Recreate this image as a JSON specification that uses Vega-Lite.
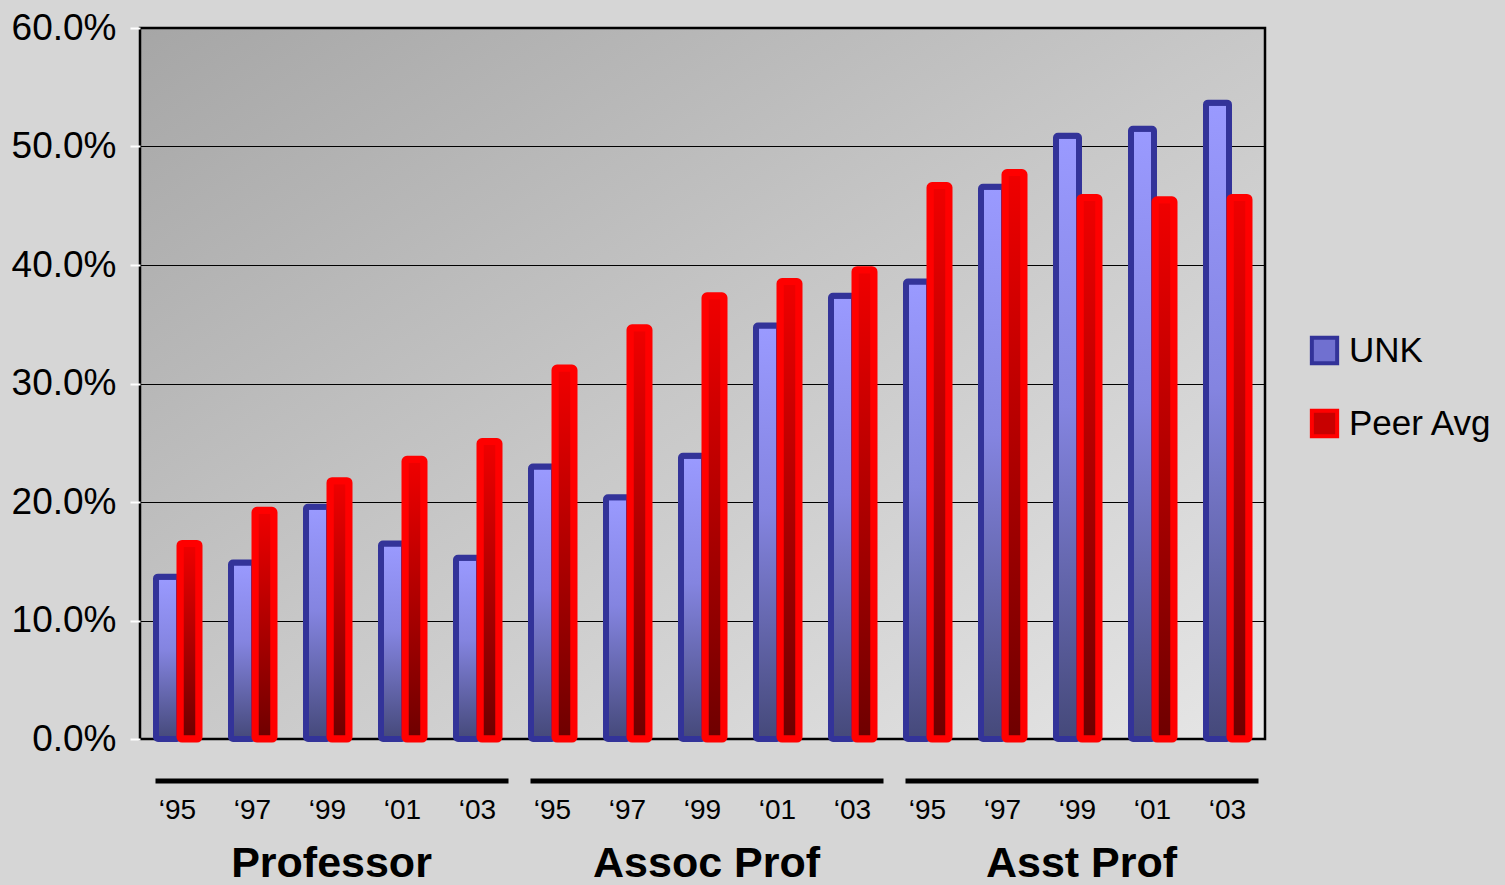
{
  "$schema": "https://vega.github.io/schema/vega-lite/v6.json",
  "width": 1125,
  "height": 711,
  "autosize": {"type": "none"},
  "padding": {"left": 140, "top": 28, "right": 240, "bottom": 146},
  "background": "#d6d6d6",
  "config": {
    "font": "Liberation Sans",
    "view": {
      "stroke": "#000000", "strokeWidth": 2.5,
      "fill": {
        "gradient": "linear", "x1": 0, "y1": 0, "x2": 1, "y2": 1,
        "stops": [{"offset": 0, "color": "#a6a6a6"}, {"offset": 0.5, "color": "#c8c8c8"}, {"offset": 1, "color": "#e6e6e6"}]
      }
    },
    "axis": {"labelFont": "Liberation Sans", "labelColor": "#000000"}
  },
  "datasets": {
    "bars": [
      {"group": "Professor", "year": "‘95", "key": "Professor|‘95", "UNK": 0.137, "Peer": 0.165},
      {"group": "Professor", "year": "‘97", "key": "Professor|‘97", "UNK": 0.149, "Peer": 0.193},
      {"group": "Professor", "year": "‘99", "key": "Professor|‘99", "UNK": 0.196, "Peer": 0.218},
      {"group": "Professor", "year": "‘01", "key": "Professor|‘01", "UNK": 0.165, "Peer": 0.236},
      {"group": "Professor", "year": "‘03", "key": "Professor|‘03", "UNK": 0.153, "Peer": 0.251},
      {"group": "Assoc Prof", "year": "‘95", "key": "Assoc Prof|‘95", "UNK": 0.230, "Peer": 0.313},
      {"group": "Assoc Prof", "year": "‘97", "key": "Assoc Prof|‘97", "UNK": 0.204, "Peer": 0.347},
      {"group": "Assoc Prof", "year": "‘99", "key": "Assoc Prof|‘99", "UNK": 0.239, "Peer": 0.374},
      {"group": "Assoc Prof", "year": "‘01", "key": "Assoc Prof|‘01", "UNK": 0.349, "Peer": 0.386},
      {"group": "Assoc Prof", "year": "‘03", "key": "Assoc Prof|‘03", "UNK": 0.374, "Peer": 0.396},
      {"group": "Asst Prof", "year": "‘95", "key": "Asst Prof|‘95", "UNK": 0.386, "Peer": 0.467},
      {"group": "Asst Prof", "year": "‘97", "key": "Asst Prof|‘97", "UNK": 0.466, "Peer": 0.478},
      {"group": "Asst Prof", "year": "‘99", "key": "Asst Prof|‘99", "UNK": 0.509, "Peer": 0.457},
      {"group": "Asst Prof", "year": "‘01", "key": "Asst Prof|‘01", "UNK": 0.515, "Peer": 0.455},
      {"group": "Asst Prof", "year": "‘03", "key": "Asst Prof|‘03", "UNK": 0.537, "Peer": 0.457}
    ],
    "groups": [
      {"group": "Professor", "first": "Professor|‘95", "last": "Professor|‘03", "mid": "Professor|‘99"},
      {"group": "Assoc Prof", "first": "Assoc Prof|‘95", "last": "Assoc Prof|‘03", "mid": "Assoc Prof|‘99"},
      {"group": "Asst Prof", "first": "Asst Prof|‘95", "last": "Asst Prof|‘03", "mid": "Asst Prof|‘99"}
    ]
  },
  "layer": [
    {
      "data": {"name": "bars"},
      "mark": {
        "type": "bar",
        "width": 23,
        "xOffset": -10,
        "stroke": "#333399",
        "strokeWidth": 6,
        "strokeJoin": "round",
        "cornerRadius": 2,
        "fill": {
          "gradient": "linear", "x1": 0, "y1": 0, "x2": 0, "y2": 1,
          "stops": [{"offset": 0, "color": "#9a9aff"}, {"offset": 0.45, "color": "#8484e0"}, {"offset": 1, "color": "#45497a"}]
        }
      },
      "encoding": {
        "x": {
          "field": "key", "type": "nominal",
          "scale": {
            "domain": ["Professor|‘95", "Professor|‘97", "Professor|‘99", "Professor|‘01", "Professor|‘03",
                       "Assoc Prof|‘95", "Assoc Prof|‘97", "Assoc Prof|‘99", "Assoc Prof|‘01", "Assoc Prof|‘03",
                       "Asst Prof|‘95", "Asst Prof|‘97", "Asst Prof|‘99", "Asst Prof|‘01", "Asst Prof|‘03"],
            "paddingInner": 0, "paddingOuter": 0
          },
          "axis": {
            "title": null, "labelAngle": 0, "domain": false, "ticks": false, "grid": false,
            "labelFontSize": 28, "labelPadding": 57,
            "labelExpr": "split(datum.label, '|')[1]"
          }
        },
        "y": {
          "field": "UNK", "type": "quantitative",
          "scale": {"domain": [0, 0.6], "nice": false},
          "axis": {
            "title": null, "format": ".1%", "values": [0, 0.1, 0.2, 0.3, 0.4, 0.5, 0.6],
            "domain": false, "ticks": true, "tickColor": "#ffffff", "tickWidth": 2, "tickSize": 10,
            "grid": true, "gridColor": "#000000", "gridOpacity": 1, "gridWidth": 1,
            "labelFontSize": 37, "labelPadding": 14
          }
        }
      }
    },
    {
      "data": {"name": "bars"},
      "mark": {
        "type": "bar",
        "width": 19,
        "xOffset": 12,
        "stroke": "#ff0000",
        "strokeWidth": 7,
        "strokeJoin": "round",
        "cornerRadius": 2,
        "fill": {
          "gradient": "linear", "x1": 0, "y1": 0, "x2": 0, "y2": 1,
          "stops": [{"offset": 0, "color": "#f00000"}, {"offset": 1, "color": "#6e0000"}]
        }
      },
      "encoding": {
        "x": {"field": "key", "type": "nominal"},
        "y": {"field": "Peer", "type": "quantitative"}
      }
    },
    {
      "data": {"name": "bars"},
      "transform": [{"filter": "false"}],
      "mark": {"type": "bar"},
      "encoding": {
        "x": {"field": "key", "type": "nominal"},
        "y": {"field": "Peer", "type": "quantitative"},
        "fill": {
          "datum": "UNK", "type": "nominal",
          "scale": {"domain": ["UNK", "Peer Avg"], "range": ["#7070d0", "#c80000"]},
          "legend": {
            "title": null, "orient": "none", "legendX": 1167, "legendY": 305,
            "symbolType": "square", "symbolSize": 640, "symbolStrokeWidth": 4, "symbolOpacity": 1,
            "labelFontSize": 35, "labelFont": "Liberation Sans", "labelColor": "#000000",
            "labelOffset": 7, "rowPadding": 30, "padding": 0
          }
        },
        "stroke": {
          "datum": "UNK", "type": "nominal",
          "scale": {"domain": ["UNK", "Peer Avg"], "range": ["#333399", "#ff0000"]},
          "legend": {
            "title": null, "orient": "none", "legendX": 1167, "legendY": 305,
            "symbolType": "square", "symbolSize": 640, "symbolStrokeWidth": 4, "symbolOpacity": 1,
            "labelFontSize": 35, "labelFont": "Liberation Sans", "labelColor": "#000000",
            "labelOffset": 7, "rowPadding": 30, "padding": 0
          }
        }
      }
    },
    {
      "data": {"name": "groups"},
      "mark": {"type": "rule", "strokeWidth": 5, "color": "#000000", "xOffset": -22, "x2Offset": 31, "yOffset": 42},
      "encoding": {
        "x": {"field": "first", "type": "nominal"},
        "x2": {"field": "last"},
        "y": {"datum": 0, "type": "quantitative"}
      }
    },
    {
      "data": {"name": "groups"},
      "mark": {"type": "text", "fontSize": 43, "fontWeight": "bold", "font": "Liberation Sans", "color": "#000000", "baseline": "middle", "dy": 125, "dx": 4},
      "encoding": {
        "x": {"field": "mid", "type": "nominal"},
        "y": {"datum": 0, "type": "quantitative"},
        "text": {"field": "group"}
      }
    }
  ]
}
